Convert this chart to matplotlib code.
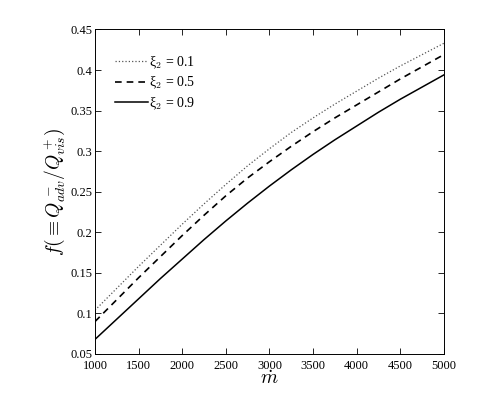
import matplotlib
matplotlib.use('Agg')
import matplotlib.pyplot as plt

plt.rcParams['font.family'] = ['Liberation Serif', 'DejaVu Serif']
plt.rcParams['mathtext.fontset'] = 'cm'

# accretion rate
mdot = [1000, 1250, 1500, 1750, 2000, 2250, 2500, 2750, 3000,
        3250, 3500, 3750, 4000, 4250, 4500, 4750, 5000]

# f for each xi_2
f_01 = [0.104, 0.131, 0.158, 0.184, 0.210, 0.235, 0.259, 0.282, 0.303,
        0.323, 0.341, 0.358, 0.374, 0.390, 0.405, 0.419, 0.433]
f_05 = [0.090, 0.117, 0.144, 0.170, 0.196, 0.221, 0.245, 0.267, 0.287,
        0.306, 0.324, 0.341, 0.357, 0.373, 0.389, 0.404, 0.419]
f_09 = [0.068, 0.093, 0.118, 0.143, 0.167, 0.191, 0.214, 0.236, 0.257,
        0.277, 0.296, 0.314, 0.331, 0.348, 0.364, 0.379, 0.394]

labels = ['ξ$_2$ = 0.1', 'ξ$_2$ = 0.5', 'ξ$_2$ = 0.9']
xticks = [1000, 1500, 2000, 2500, 3000, 3500, 4000, 4500, 5000]
yticks = [0.05, 0.1, 0.15, 0.2, 0.25, 0.3, 0.35, 0.4, 0.45]
yticklabels = ['0.05', '0.1', '0.15', '0.2', '0.25', '0.3', '0.35', '0.4', '0.45']

fig = plt.figure(figsize=(4.91, 3.98), dpi=100)
ax = fig.add_axes([0.1935, 0.1106, 0.7105, 0.8153])

ax.plot(mdot, f_01, linestyle=':', color='#555555', linewidth=0.9, label=labels[0])
ax.plot(mdot, f_05, linestyle=(0, (4, 3)), color='black', linewidth=1.2, label=labels[1])
ax.plot(mdot, f_09, linestyle='-', color='black', linewidth=1.1, label=labels[2])

ax.set_xlim(1000, 5000)
ax.set_ylim(0.05, 0.45)
ax.set_xticks(xticks)
ax.set_yticks(yticks)
ax.set_yticklabels(yticklabels)
ax.tick_params(direction='in', top=True, right=True, length=4, width=0.6,
               labelsize=9, pad=2)
ax.tick_params(axis='x', pad=4)
for s in ax.spines.values():
    s.set_linewidth(0.7)

ax.set_xlabel(r'$\dot{m}$', fontsize=14, labelpad=-1)
ax.set_ylabel(r'$f(\equiv Q^-_{adv}/Q^+_{vis})$', fontsize=14, labelpad=2)

leg = ax.legend(loc='upper left', frameon=False, fontsize=10, handlelength=2.4,
                handletextpad=0.1, labelspacing=0.3, borderaxespad=0,
                bbox_to_anchor=(0.04, 0.94))

fig.savefig('out.png', dpi=100)
